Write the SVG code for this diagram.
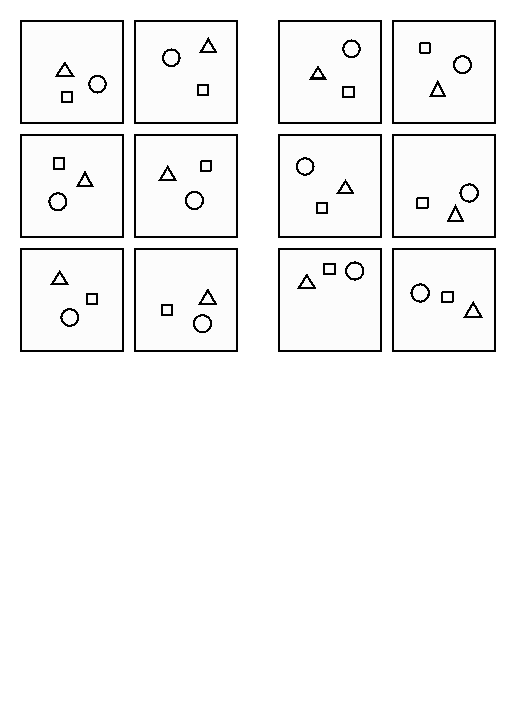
<svg xmlns="http://www.w3.org/2000/svg" width="526" height="704" viewBox="0 0 526 704" shape-rendering="crispEdges">
<style>
.panel{fill:#fcfcfc;stroke:#000;stroke-width:2}
.s{fill:none;stroke:#000;stroke-width:2.2;stroke-linejoin:miter}
.q{fill:none;stroke:#000;stroke-width:2}
</style>
<rect x="0" y="0" width="526" height="704" fill="#ffffff"/>
<g id="panel-1">
<rect class="panel" x="21" y="21" width="102" height="102"/>
<path class="s" d="M64.8,63.3 L56.8,75.6 L72.8,75.6 Z"/>
<rect class="q" x="62" y="92" width="10" height="10"/>
<circle class="s" cx="97.5" cy="84.2" r="8.3"/>
</g>
<g id="panel-2">
<rect class="panel" x="135" y="21" width="102" height="102"/>
<circle class="s" cx="171.3" cy="57.8" r="8.3"/>
<path class="s" d="M208.3,39.3 L201,51.6 L215.6,51.6 Z"/>
<rect class="q" x="198" y="85" width="10" height="10"/>
</g>
<g id="panel-3">
<rect class="panel" x="279" y="21" width="102" height="102"/>
<circle class="s" cx="351.5" cy="48.8" r="8.3"/>
<path class="s" d="M318,67.3 L311.2,78.4 L324.8,78.4 Z"/>
<rect class="q" x="343" y="87" width="11" height="10"/>
</g>
<g id="panel-4">
<rect class="panel" x="393" y="21" width="102" height="102"/>
<rect class="q" x="420" y="43" width="10" height="10" rx="1.5"/>
<circle class="s" cx="462.5" cy="64.7" r="8.5"/>
<path class="s" d="M437.7,82.3 L430.7,96.3 L444.7,96.3 Z"/>
</g>
<g id="panel-5">
<rect class="panel" x="21" y="135" width="102" height="102"/>
<rect class="q" x="54" y="158" width="10" height="11"/>
<path class="s" d="M85,172.6 L77.7,186.3 L92.3,186.3 Z"/>
<circle class="s" cx="57.8" cy="201.7" r="8.5"/>
</g>
<g id="panel-6">
<rect class="panel" x="135" y="135" width="102" height="102"/>
<path class="s" d="M167.7,167 L160.3,179.6 L175.1,179.6 Z"/>
<rect class="q" x="201" y="161" width="10" height="10" rx="1"/>
<circle class="s" cx="194.5" cy="200.5" r="8.5"/>
</g>
<g id="panel-7">
<rect class="panel" x="279" y="135" width="102" height="102"/>
<circle class="s" cx="305.2" cy="166.5" r="8.3"/>
<path class="s" d="M345.5,181 L338.3,192.7 L352.7,192.7 Z"/>
<rect class="q" x="317" y="203" width="10" height="10"/>
</g>
<g id="panel-8">
<rect class="panel" x="393" y="135" width="102" height="102"/>
<circle class="s" cx="469.2" cy="193" r="8.7"/>
<rect class="q" x="417" y="198" width="11" height="10" rx="1"/>
<path class="s" d="M455.5,206.8 L448,221.1 L463,221.1 Z"/>
</g>
<g id="panel-9">
<rect class="panel" x="21" y="249" width="102" height="102"/>
<path class="s" d="M59.7,271.8 L52,284.1 L67.4,284.1 Z"/>
<rect class="q" x="87" y="294" width="10" height="10"/>
<circle class="s" cx="69.8" cy="317.5" r="8.4"/>
</g>
<g id="panel-10">
<rect class="panel" x="135" y="249" width="102" height="102"/>
<path class="s" d="M207.8,290.3 L200,303.6 L215.6,303.6 Z"/>
<rect class="q" x="162" y="305" width="10" height="10"/>
<circle class="s" cx="202.5" cy="323.7" r="8.6"/>
</g>
<g id="panel-11">
<rect class="panel" x="279" y="249" width="102" height="102"/>
<path class="s" d="M306.8,275.3 L299,287.6 L314.6,287.6 Z"/>
<rect class="q" x="324" y="264" width="11" height="10"/>
<circle class="s" cx="354.7" cy="271" r="8.6"/>
</g>
<g id="panel-12">
<rect class="panel" x="393" y="249" width="102" height="102"/>
<circle class="s" cx="420.2" cy="293" r="8.7"/>
<rect class="q" x="442" y="292" width="11" height="10" rx="1"/>
<path class="s" d="M473.2,302.8 L465,317.1 L481.4,317.1 Z"/>
</g>
</svg>
